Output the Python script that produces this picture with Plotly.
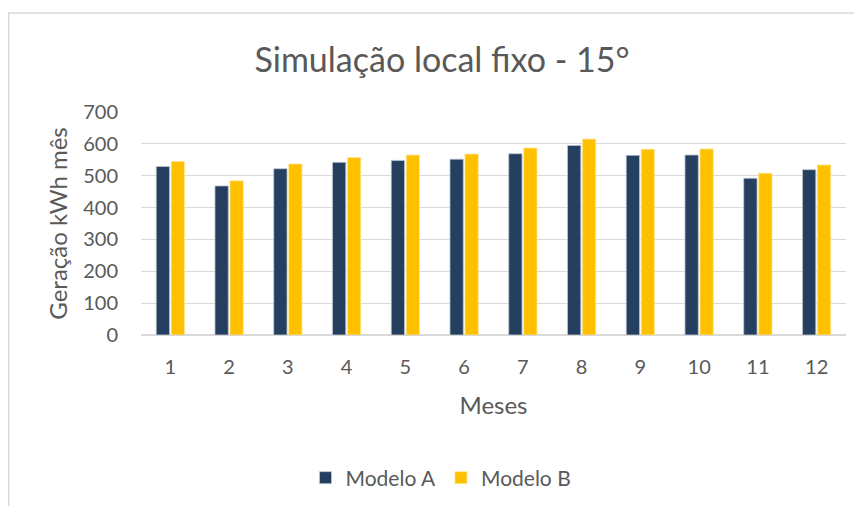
import plotly.graph_objects as go

meses = [str(i) for i in range(1, 13)]
modelo_a = [529, 468, 522, 542, 548, 552, 569, 595, 564, 565, 492, 519]
modelo_b = [545, 484, 537, 557, 565, 568, 587, 615, 583, 584, 508, 534]
y_ticks = [0, 100, 200, 300, 400, 500, 600, 700]

FONT = "Lato"
GRAY = "#595959"

fig = go.Figure()
fig.add_trace(go.Bar(x=meses, y=modelo_a, name="Modelo A",
                     marker=dict(color="#243F60", line=dict(color="#BFC6D0", width=0.8))))
fig.add_trace(go.Bar(x=meses, y=modelo_b, name="Modelo B",
                     marker=dict(color="#FFC000", line=dict(color="#FFE699", width=0.8))))

OFF = 8  # page body offset
W, H = 862 - OFF, 506 - OFF
L, R, T, B = 141 - OFF, 846 - OFF, 112 - OFF, 335 - OFF
def px(x):
    return (x - OFF - L) / (R - L)
def py(y):
    return (B - (y - OFF)) / (B - T)
def cy(y):
    return 1 - (y - OFF) / H

fig.update_layout(
    width=W, height=H,
    margin=dict(l=L, r=W - R, t=T, b=H - B, autoexpand=False),
    paper_bgcolor="white", plot_bgcolor="white",
    barmode="group", bargap=0.49, bargroupgap=0.11,
    font=dict(family=FONT, color=GRAY, size=20),
    title=dict(text="Simulação local fixo - 15°", xref="paper", x=px(442), xanchor="center",
               yref="container", y=cy(60), yanchor="middle",
               font=dict(size=34, color=GRAY, family=FONT)),
    xaxis=dict(title=dict(text="Meses", font=dict(size=24, color=GRAY), standoff=20),
               showgrid=False, showline=True, linecolor="#D9D9D9", linewidth=1,
               ticks="", ticklabelstandoff=14, tickfont=dict(size=20, color=GRAY),
               automargin=False),
    yaxis=dict(title=dict(text="Geração kWh mês", font=dict(size=24, color=GRAY), standoff=8),
               range=[0, 700], tickvals=y_ticks, showgrid=True, gridcolor="#D9D9D9",
               gridwidth=1, zeroline=True, zerolinecolor="#D9D9D9", showline=False,
               ticks="", ticklabelstandoff=22, tickfont=dict(size=20, color=GRAY),
               automargin=False),
    legend=dict(orientation="h", x=px(441), xanchor="center",
                yref="container", y=cy(478), yanchor="middle",
                font=dict(size=21, color=GRAY), itemwidth=30, traceorder="normal"),
    shapes=[dict(type="rect", xref="paper", yref="paper",
                 x0=px(8.7), x1=px(875), y0=py(520), y1=py(13),
                 line=dict(color="#D9D9D9", width=1.5), fillcolor="rgba(0,0,0,0)", layer="below")],
)

fig.write_html("out.html")
